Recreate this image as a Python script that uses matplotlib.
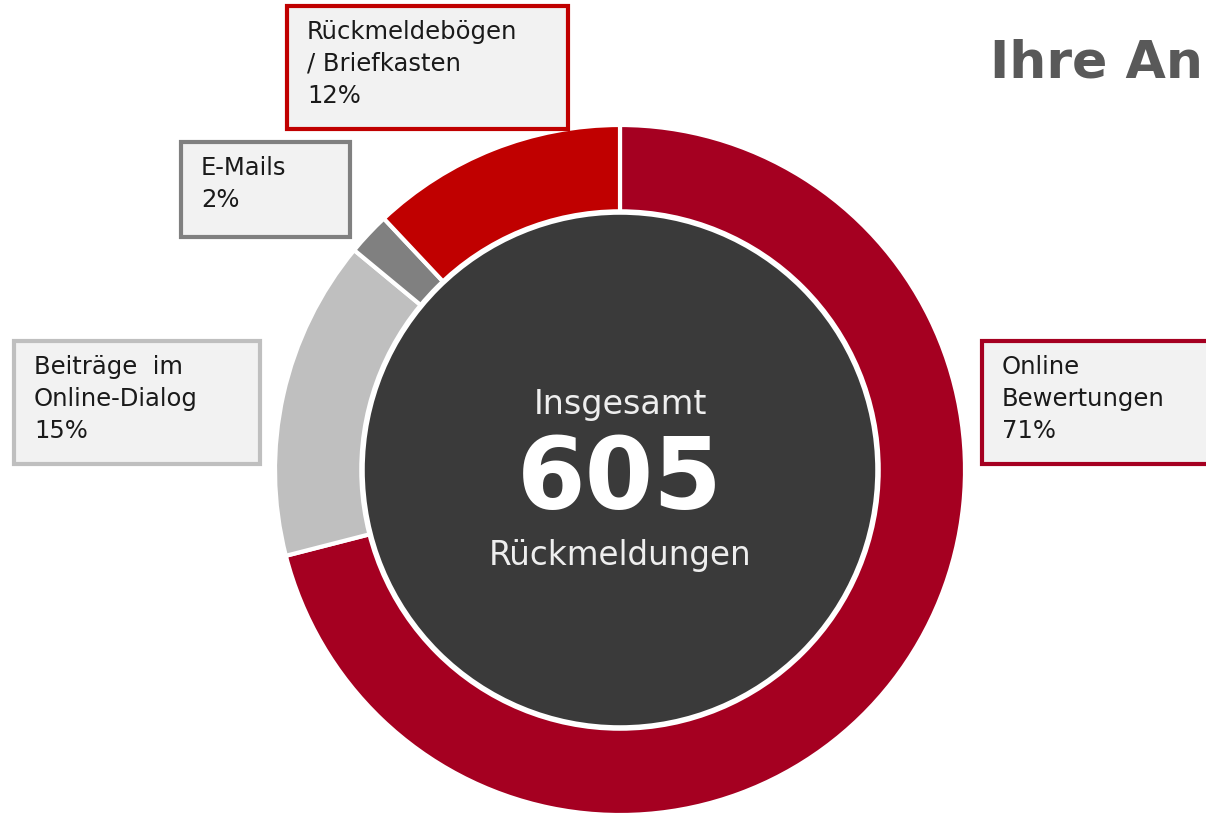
import matplotlib
matplotlib.use("Agg")
import matplotlib.pyplot as plt
from matplotlib.patches import Rectangle, Circle

plt.rcParams['font.family'] = ['DejaVu Sans']

# ---- data ----
categories = ["Online\nBewertungen", "Beiträge  im\nOnline-Dialog", "E-Mails", "Rückmeldebögen\n/ Briefkasten"]
shares = [71, 15, 2, 12]
colors = ["#a50021", "#bfbfbf", "#808080", "#c00000"]
total = 605
title = "Ihre An"

W, H = 1206, 820
fig = plt.figure(figsize=(W / 100, H / 100), dpi=100)
ax = fig.add_axes([0, 0, 1, 1])

cx, cy = 620, H - 471
R = 345
ax.pie(shares, colors=colors, startangle=90, counterclock=False,
       center=(cx, cy), radius=R,
       wedgeprops=dict(edgecolor='white', linewidth=3))
ax.set_xlim(0, W)
ax.set_ylim(0, H)
ax.set_aspect('equal')
ax.axis('off')

ax.add_patch(Circle((cx, cy), 258, facecolor='#3a3a3a', edgecolor='white', linewidth=4, zorder=5))

ax.text(cx, H - 405, "Insgesamt", color='#eeeeee', fontsize=24, ha='center', va='center', zorder=6)
ax.text(cx, H - 482, str(total), color='white', fontsize=71, fontweight='bold', ha='center', va='center', zorder=6)
ax.text(cx, H - 556, "Rückmeldungen", color='#eeeeee', fontsize=23.5, ha='center', va='center', zorder=6)

# label boxes: (x_left, y_top, width, height) in pixel units, per category
boxes = [(982, 342, 260, 123), (14, 342, 246, 123), (181, 143, 169, 95), (287, 7, 281, 123)]
for cat, val, col, (bx, by, bw, bh) in zip(categories, shares, colors, boxes):
    ax.add_patch(Rectangle((bx, H - by - bh), bw, bh, facecolor='#f2f2f2', edgecolor=col,
                           linewidth=3, zorder=7, clip_on=False))
    ax.text(bx + 20, H - by - 13, f"{cat}\n{val}%", fontsize=17.5, color='#1a1a1a',
            ha='left', va='top', linespacing=1.42, zorder=8)

ax.text(990, H - 64, title, fontsize=37.5, fontweight='bold', color='#595959', ha='left', va='center')

fig.savefig("out.png", dpi=100)
